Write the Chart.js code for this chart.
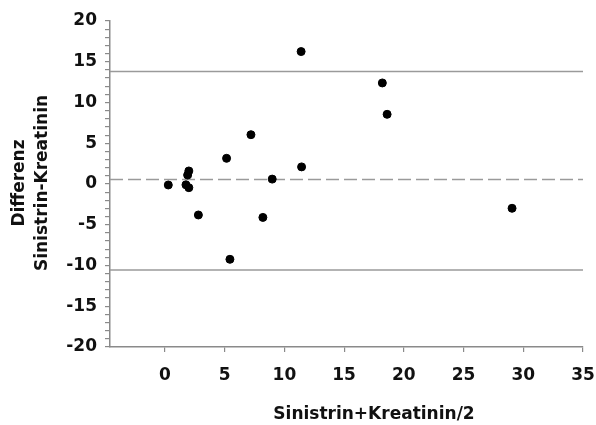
<!DOCTYPE html>
<html>
<head>
<meta charset="utf-8">
<script src="https://cdn.jsdelivr.net/npm/chart.js@4.4.0/dist/chart.umd.min.js"></script>
<style>
  html, body { margin: 0; padding: 0; background: #fff; }
  #wrap { width: 596px; height: 425px; }
</style>
</head>
<body>
<div id="wrap"><canvas id="c"></canvas></div>
<script>
// mean of both methods (x) and their difference (y)
const meanValues = [0.28, 1.76, 2.0, 1.9, 2.0, 2.8, 5.16, 5.44, 7.2, 8.2, 8.98, 11.4, 11.44, 18.2, 18.6, 29.06];
const diffValues = [-0.12, -0.1, -0.45, 1.1, 1.6, -3.8, 3.15, -9.24, 6.05, -4.1, 0.6, 16.25, 2.1, 12.4, 8.55, -2.98];
const upperLimit = 13.8;
const meanDiff = 0.55;
const lowerLimit = -10.55;
const xTicks = [0, 5, 10, 15, 20, 25, 30, 35];
const yTicks = [-20, -15, -10, -5, 0, 5, 10, 15, 20];

const X_MIN = -4.6, X_MAX = 35;
const FAMILY = '"DejaVu Sans", "Liberation Sans", sans-serif';
const FONT = 'bold 17px ' + FAMILY;

const points = meanValues.map((x, i) => ({ x, y: diffValues[i] }));
const hline = v => [{ x: X_MIN, y: v }, { x: X_MAX, y: v }];

const lineStyle = {
  showLine: true,
  borderColor: '#9a9a9a',
  borderWidth: 1.5,
  pointRadius: 0,
  fill: false,
};

// axis titles drawn by hand to sit where the original has them
const titles = {
  id: 'titles',
  afterDraw(chart) {
    const ctx = chart.ctx;
    ctx.save();
    ctx.fillStyle = '#111';
    ctx.font = FONT;
    ctx.textAlign = 'center';
    ctx.textBaseline = 'middle';
    ctx.fillText('Sinistrin+Kreatinin/2', 374, 415);
    ctx.translate(0, 183);
    ctx.rotate(-Math.PI / 2);
    ctx.fillText('Differenz', 0, 20);
    ctx.fillText('Sinistrin-Kreatinin', 0, 43);
    ctx.restore();
  }
};

new Chart(document.getElementById('c'), {
  type: 'scatter',
  data: {
    datasets: [
      { data: points, backgroundColor: '#000', borderColor: '#000', pointRadius: 4, pointHoverRadius: 4 },
      { ...lineStyle, data: hline(upperLimit) },
      { ...lineStyle, data: hline(meanDiff), borderDash: [13, 5] },
      { ...lineStyle, data: hline(lowerLimit) },
    ],
  },
  options: {
    responsive: true,
    maintainAspectRatio: false,
    animation: false,
    events: [],
    layout: { padding: { top: 21, right: 13, left: 0, bottom: 0 } },
    plugins: { legend: { display: false }, tooltip: { enabled: false } },
    scales: {
      x: {
        type: 'linear',
        min: X_MIN,
        max: X_MAX,
        afterBuildTicks: s => { s.ticks = xTicks.map(v => ({ value: v })); },
        afterFit: s => { s.height = 78; s.paddingLeft = 0; s.paddingRight = 0; },
        border: { display: true, color: '#8a8a8a', width: 1.5 },
        grid: { drawOnChartArea: false, drawTicks: true, tickLength: 5, color: '#8a8a8a', lineWidth: 1.2 },
        ticks: { color: '#111', font: { family: FAMILY, size: 17, weight: 'bold' }, padding: 13, maxRotation: 0, autoSkip: false },
      },
      y: {
        type: 'linear',
        min: -20,
        max: 20,
        afterBuildTicks: s => {
          const t = [];
          for (let v = -20; v <= 20; v++) t.push({ value: v });
          s.ticks = t;
        },
        afterFit: s => { s.width = 110; s.paddingTop = 0; s.paddingBottom = 0; },
        border: { display: true, color: '#8a8a8a', width: 1.5 },
        grid: {
          drawOnChartArea: false, drawTicks: true, tickLength: 5,
          color: '#8a8a8a', lineWidth: 1.2,
        },
        ticks: {
          color: '#111',
          font: { family: FAMILY, size: 17, weight: 'bold' },
          padding: 8,
          autoSkip: false,
          callback: v => (yTicks.includes(v) ? String(v) : ''),
        },
      },
    },
  },
  plugins: [titles],
});
</script>
</body>
</html>
